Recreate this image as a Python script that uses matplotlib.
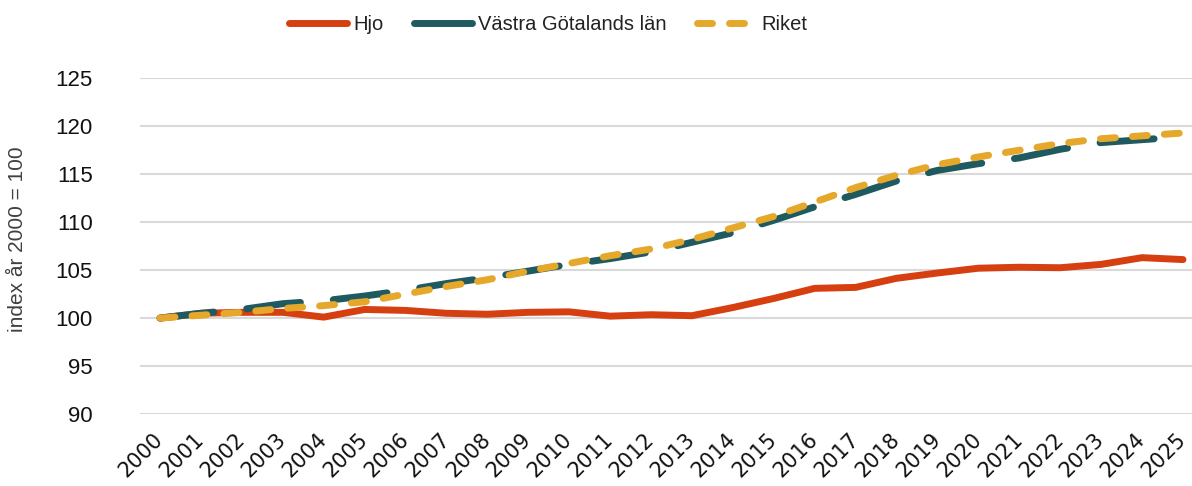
import matplotlib
matplotlib.use("Agg")
import matplotlib.pyplot as plt
from matplotlib.lines import Line2D

years = [str(y) for y in range(2000, 2026)]
hjo = [100.0, 100.5, 100.6, 100.6, 100.1, 100.9, 100.8, 100.5, 100.4, 100.6, 100.65, 100.2,
       100.35, 100.25, 101.1, 102.05, 103.1, 103.2, 104.15, 104.7, 105.2, 105.3, 105.25,
       105.6, 106.3, 106.1]
vgl = [100.0, 100.5, 100.9, 101.5, 101.8, 102.3, 102.9, 103.6, 104.2, 104.9, 105.6, 106.2,
       106.9, 107.9, 108.9, 110.2, 111.6, 112.9, 114.3, 115.4, 116.1, 116.7, 117.6, 118.3,
       118.6, 118.9]
riket = [100.0, 100.3, 100.6, 101.0, 101.3, 101.7, 102.5, 103.3, 104.0, 104.9, 105.7, 106.5,
         107.2, 108.2, 109.4, 110.6, 112.1, 113.6, 114.9, 116.0, 116.8, 117.5, 118.2, 118.7,
         119.0, 119.3]
series_names = ["Hjo", "Västra Götalands län", "Riket"]
yticks = [90, 95, 100, 105, 110, 115, 120, 125]

c_hjo = "#D63F10"
c_vgl = "#1F5A60"
c_rik = "#E5A82A"

fig = plt.figure(figsize=(11.92, 4.86), dpi=100)
ax = fig.add_axes([140/1192, 1-414/486, 1-140/1192, (414-78.3)/486])

x = list(range(len(years)))
lw = 5.0
ax.plot(x, hjo, color=c_hjo, lw=lw, solid_capstyle="round", solid_joinstyle="round", zorder=3)
l2, = ax.plot(x, vgl, color=c_vgl, lw=lw, dash_capstyle="round", zorder=3)
l2.set_dashes((7.8, 4.75))
l3, = ax.plot(x, riket, color=c_rik, lw=lw, dash_capstyle="round", zorder=4)
l3.set_dashes((2.16, 2.45))

ax.set_xlim(-20/40.92, (1192-160)/40.92)
ax.set_ylim(90, 125)
ax.set_yticks(yticks)
ax.set_yticklabels([str(t) for t in yticks], fontsize=16, family="Liberation Sans", color="#111111")
ax.set_xticks(x)
ax.set_xticklabels(years, rotation=45, ha="right", va="center", rotation_mode="anchor",
                   fontsize=15, family="DejaVu Sans", color="#111111")
ax.tick_params(axis="both", length=0)
ax.tick_params(axis="y", pad=34)
ax.tick_params(axis="x", pad=16)
ax.grid(axis="y", color="#D9D9D9", lw=1.5)
ax.set_axisbelow(True)
for s in ax.spines.values():
    s.set_visible(False)

fig.text(18/1192, 1-239/486, "index år 2000 = 100", rotation=90, ha="center", va="center",
         fontsize=15, color="#404040", family="Liberation Sans")

h1 = Line2D([], [], color=c_hjo, lw=lw, solid_capstyle="round")
h2 = Line2D([], [], color=c_vgl, lw=lw, solid_capstyle="round")
h3 = Line2D([], [], color=c_rik, lw=lw, dash_capstyle="round", dashes=(2.16, 2.45))
leg = fig.legend([h1, h2, h3], series_names, loc="center", bbox_to_anchor=(548/1192, 1-25/486),
                 ncol=3, frameon=False, handlelength=2.9, handletextpad=0.3, columnspacing=1.5,
                 prop={"family": "Liberation Sans", "size": 14.5})
for t in leg.get_texts():
    t.set_color("#222222")

fig.savefig("out.png", dpi=100)
